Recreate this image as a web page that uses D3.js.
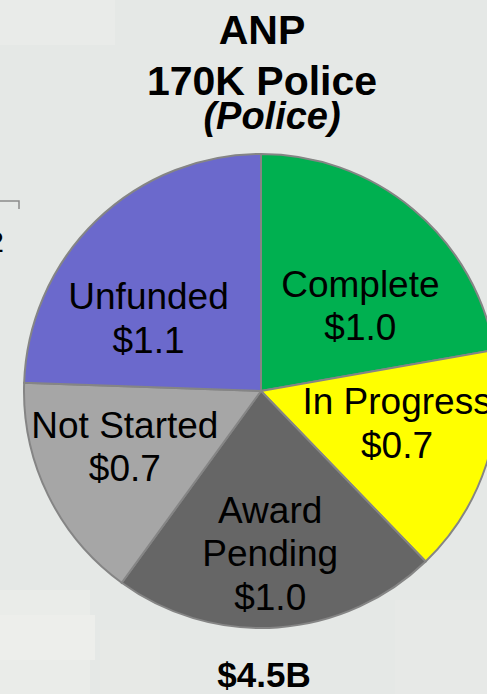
<!DOCTYPE html>
<html>
<head>
<meta charset="utf-8">
<script src="https://cdn.jsdelivr.net/npm/d3@7"></script>
<style>
  html, body { margin: 0; padding: 0; background: #e5e8e6; }
  svg { display: block; font-family: 'Liberation Sans', Arial, sans-serif; }
</style>
</head>
<body>
<div id="chart"></div>
<script>
(function(){

  const W = 487, H = 694

  // slice data, clockwise from 12 o'clock ($B)
  const categories = ['Complete', 'In Progress', 'Award Pending', 'Not Started', 'Unfunded']
  const values = [1.0, 0.7, 1.0, 0.7, 1.1]
  const labelLines = [['Complete'], ['In Progress'], ['Award', 'Pending'], ['Not Started'], ['Unfunded']]
  const colors = ['#00b050', '#ffff00', '#666666', '#a6a6a6', '#6b69cc']
  const titleLines = ['ANP', '170K Police']
  const subtitle = '(Police)'
  const total = '$4.5B'

  // label placement (angle in degrees, radius in px) - layout only
  const labelAt = [[46.5, 137], [99.6, 138], [176, 132], [251, 144], [306, 139]]

  const cx = 261, cy = 391, r = 237

  const svg = d3.select('#chart').append('svg')
      .attr('width', W).attr('height', H)

  // faded background
  svg.append('rect').attr('width', W).attr('height', H).attr('fill', '#e5e8e6')
  const bg = [[0, 0, 115, 45, '#e9ebe9'], [0, 590, 90, 104, '#eaece9'], [0, 615, 95, 45, '#edeeeb'],
              [395, 600, 92, 94, '#e7e9e7'], [100, 630, 60, 64, '#e7e9e6']]
  svg.selectAll('rect.bg').data(bg).enter().append('rect')
      .attr('class', 'bg')
      .attr('x', d => d[0]).attr('y', d => d[1])
      .attr('width', d => d[2]).attr('height', d => d[3])
      .attr('fill', d => d[4])

  // cut-off fragment of the neighbouring chart
  svg.append('path').attr('d', 'M0,201H19V209')
      .attr('fill', 'none').attr('stroke', '#8a8a8a').attr('stroke-width', 1.5)
  svg.append('text').attr('x', 4).attr('y', 252)
      .attr('text-anchor', 'end').attr('font-size', '30px').text('2')

  const pie = d3.pie().sort(null).value(d => d)
  const arc = d3.arc().innerRadius(0).outerRadius(r)
  const arcs = pie(values)

  const g = svg.append('g').attr('transform', `translate(${cx},${cy})`)

  g.selectAll('path.slice').data(arcs).enter().append('path')
      .attr('class', 'slice')
      .attr('d', arc)
      .attr('fill', (d, i) => colors[i])
      .attr('stroke', '#858585')
      .attr('stroke-width', 2)

  const lineH = 43.5
  g.selectAll('text.label').data(arcs).enter().append('text')
      .attr('class', 'label')
      .attr('text-anchor', 'middle')
      .attr('font-size', '37px')
      .attr('fill', '#000')
      .each(function(d, i) {
        const p = d3.pointRadial(labelAt[i][0] * Math.PI / 180, labelAt[i][1])
        const lines = labelLines[i].concat(['$' + d3.format('.1f')(values[i])])
        d3.select(this).selectAll('tspan').data(lines).enter().append('tspan')
            .attr('x', p[0])
            .attr('y', (t, j) => p[1] + j * lineH)
            .text(t => t)
      })

  // titles
  svg.selectAll('text.title').data(titleLines).enter().append('text')
      .attr('class', 'title')
      .attr('x', 262).attr('y', (d, i) => 44 + i * 51)
      .attr('text-anchor', 'middle')
      .attr('font-size', '41px').attr('font-weight', 'bold')
      .text(d => d)

  svg.append('text')
      .attr('x', 272).attr('y', 129)
      .attr('text-anchor', 'middle')
      .attr('font-size', '38px').attr('font-weight', 'bold').attr('font-style', 'italic')
      .text(subtitle)

  svg.append('text')
      .attr('x', 264).attr('y', 687)
      .attr('text-anchor', 'middle')
      .attr('font-size', '35px').attr('font-weight', 'bold')
      .text(total)

})()
</script>
</body>
</html>
